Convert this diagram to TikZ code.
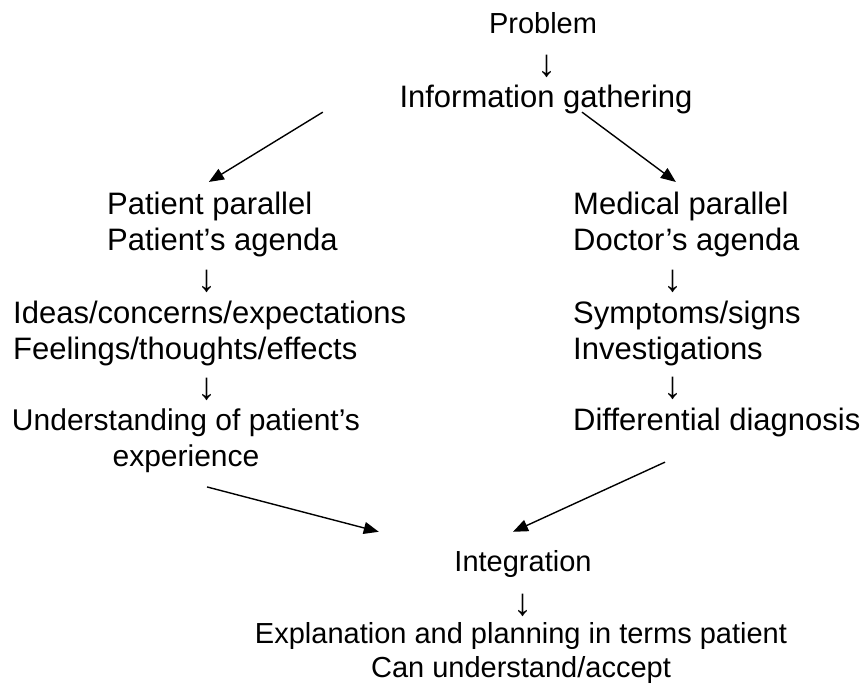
\documentclass[tikz,border=0pt]{standalone}
\usepackage{fontspec}
\setmainfont{Liberation Sans}
\usetikzlibrary{arrows.meta}

\begin{document}
\begin{tikzpicture}[x=1pt,y=-1pt]
        \tikzstyle{txt} = [inner sep=0pt, font=\fontsize{31}{36}\selectfont]
        \tikzstyle{txts} = [inner sep=0pt, font=\fontsize{29}{34}\selectfont, anchor=base, align=center]
        \tikzstyle{txtl} = [txt, anchor=base west, align=left]
        \tikzstyle{txtc} = [txt, anchor=base, align=center]
        \tikzstyle{down} = [inner sep=0pt, font=\fontsize{38}{38}\selectfont, anchor=center]
        \tikzstyle{arrow} = [line width=1.4pt, -{Triangle[length=15pt,width=12pt]}]
        \useasboundingbox (0,0) rectangle (863,686);
		\node [txts] (prob) at (543, 33) {Problem};
		\node [down] (d0) at (547, 66) {↓};
		\node [txtc] (info) at (546, 107) {Information gathering};
		\node [txtl] (ppar) at (107, 250) {Patient parallel \\ Patient’s agenda};
		\node [down] (d1) at (207, 281) {↓};
		\node [txtl] (ideas) at (13, 359) {Ideas/concerns/expectations \\ Feelings/thoughts/effects};
		\node [down] (d2) at (207, 389) {↓};
		\node [txtc, font=\fontsize{30}{36}\selectfont] (und) at (186, 466) {Understanding of patient’s \\ experience};
		\node [txtl] (mpar) at (573, 250) {Medical parallel \\ Doctor’s agenda};
		\node [down] (d3) at (673, 281) {↓};
		\node [txtl] (symp) at (573, 359) {Symptoms/signs \\ Investigations};
		\node [down] (d4) at (673, 388) {↓};
		\node [txtl] (diff) at (573, 430) {Differential diagnosis};
		\node [txts] (integ) at (523, 571) {Integration};
		\node [down] (d5) at (523, 605) {↓};
		\node [txts] (expl) at (521, 677) {Explanation and planning in terms patient \\ Can understand/accept};
		\draw[arrow] ([shift={(-76.5pt,1.5pt)}]info.south west) to ([shift={(-13.5pt,9.4pt)}]ppar.north);
		\draw[arrow] ([shift={(36pt,1.5pt)}]info.south) to ([shift={(-10.5pt,9.4pt)}]mpar.north);
		\draw[arrow] ([shift={(21pt,-14.5pt)}]und.south) to ([shift={(-75.5pt,18pt)}]integ.north west);
		\draw[arrow] ([shift={(92pt,-25.5pt)}]diff.south west) to ([shift={(-10pt,18pt)}]integ.north);
    \end{tikzpicture}
\end{document}
